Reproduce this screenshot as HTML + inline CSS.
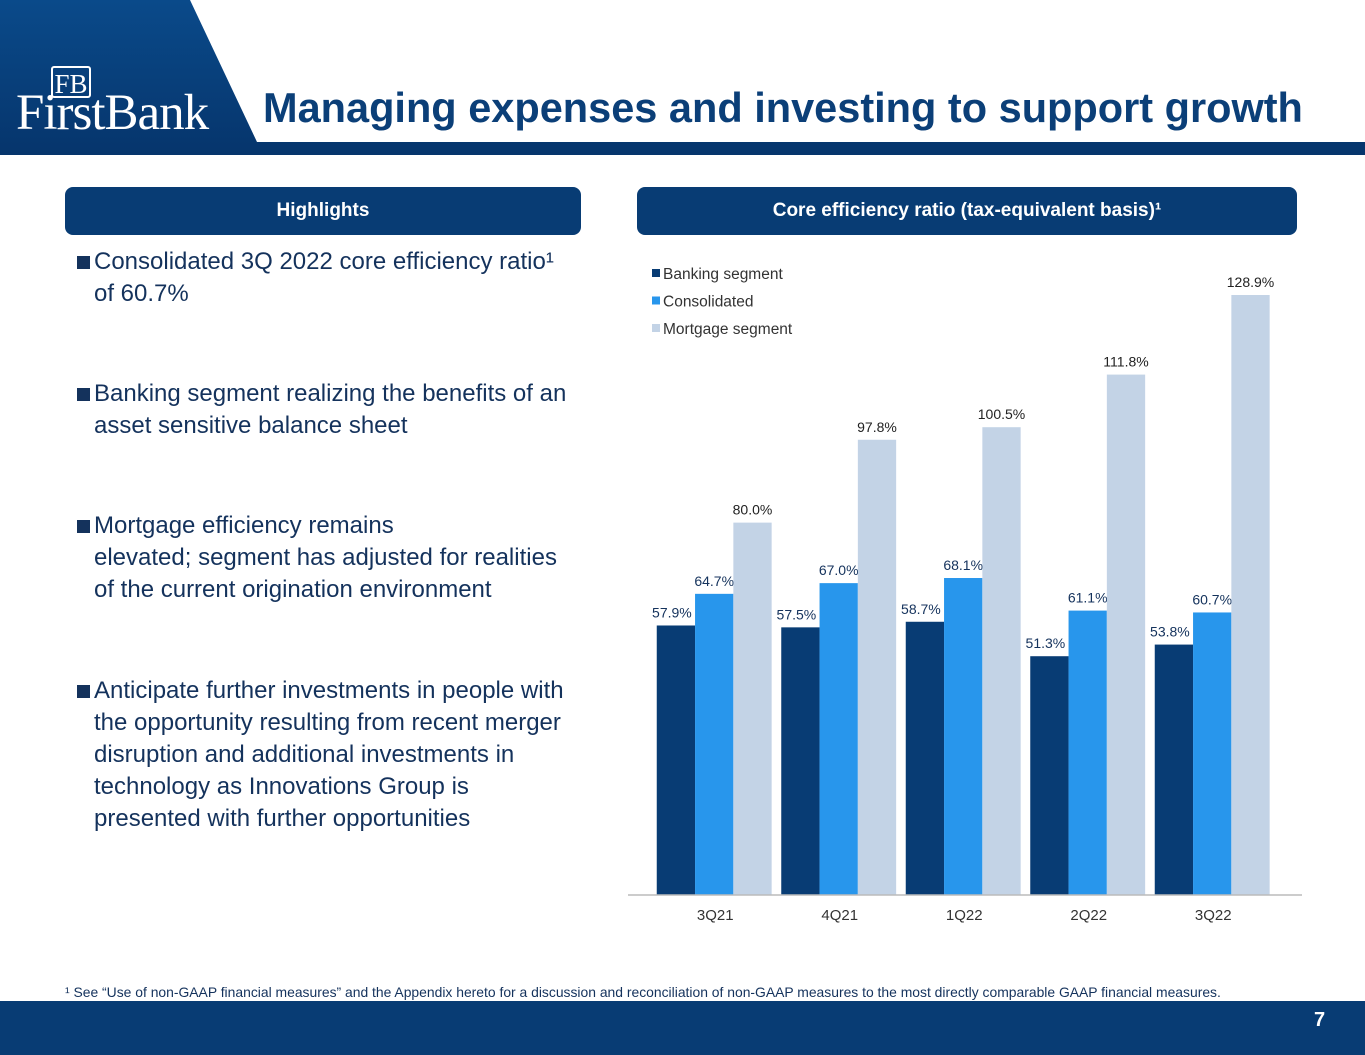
<!DOCTYPE html>
<html><head><meta charset="utf-8"><style>
body{margin:0;width:1365px;height:1055px;position:relative;overflow:hidden;background:#fff;font-family:"Liberation Sans",sans-serif}
.abs{position:absolute}
.hdr{background:#083c74;color:#fff;font-weight:bold;font-size:19px;text-align:center;line-height:48px;border-radius:8px;height:48px}
.bul{position:absolute;left:77px;width:520px;font-size:24px;line-height:32px;color:#14325c}
.bul .sq{position:absolute;left:0;top:10px;width:13px;height:13px;background:#14325c}
.bul .t{margin-left:17px}
</style></head><body>
<svg class="abs" style="left:0;top:0" width="1365" height="160">
<defs><linearGradient id="g" x1="0" y1="0" x2="0" y2="1"><stop offset="0" stop-color="#0a4a8a"/><stop offset="1" stop-color="#06356c"/></linearGradient></defs>
<polygon points="0,0 190,0 257,142 1365,142 1365,155 0,155" fill="url(#g)"/>
</svg>
<div class="abs" style="left:51px;top:66px;width:40px;height:32px;border:2px solid #fff;border-radius:3px;color:#fff;font-family:'Liberation Serif',serif;font-size:27px;text-align:center;line-height:32px;box-sizing:border-box">FB</div>
<div class="abs" style="left:16px;top:84px;color:#fff;font-family:'Liberation Serif',serif;font-size:51px;letter-spacing:-1px;white-space:nowrap">FirstBank</div>
<div class="abs" style="left:263px;top:84px;color:#0b3f78;font-size:41.5px;font-weight:bold;white-space:nowrap">Managing expenses and investing to support growth</div>
<div class="abs hdr" style="left:65px;top:187px;width:516px">Highlights</div>
<div class="abs hdr" style="left:637px;top:187px;width:660px">Core efficiency ratio (tax-equivalent basis)¹</div>
<div class="bul" style="top:246px"><div class="sq"></div><div class="t">Consolidated 3Q 2022 core efficiency ratio¹<br>of 60.7%</div></div>
<div class="bul" style="top:378px"><div class="sq"></div><div class="t">Banking segment realizing the benefits of an<br>asset sensitive balance sheet</div></div>
<div class="bul" style="top:510px"><div class="sq"></div><div class="t">Mortgage efficiency remains<br>elevated; segment has adjusted for realities<br>of the current origination environment</div></div>
<div class="bul" style="top:675px"><div class="sq"></div><div class="t">Anticipate further investments in people with<br>the opportunity resulting from recent merger<br>disruption and additional investments in<br>technology as Innovations Group is<br>presented with further opportunities</div></div>
<svg id="chart" class="abs" style="left:0;top:0" width="1365" height="1000"></svg>
<div class="abs" style="left:65px;top:984px;font-size:13.9px;color:#14325c;white-space:nowrap">¹ See “Use of non-GAAP financial measures” and the Appendix hereto for a discussion and reconciliation of non-GAAP measures to the most directly comparable GAAP financial measures.</div>
<div class="abs" style="left:0;top:1001px;width:1365px;height:54px;background:#083c74"></div>
<div class="abs" style="left:1314px;top:1009px;color:#fff;font-weight:bold;font-size:20px">7</div>
<script>
const categories=["3Q21","4Q21","1Q22","2Q22","3Q22"];
const seriesNames=["Banking segment","Consolidated","Mortgage segment"];
const banking=[57.9,57.5,58.7,51.3,53.8];
const consolidated=[64.7,67.0,68.1,61.1,60.7];
const mortgage=[80.0,97.8,100.5,111.8,128.9];
const colors=["#083c74","#2896ec","#c3d3e6"];
const labelColors=["#14325c","#14325c","#222"];
const svg=document.getElementById('chart');
const NS="http://www.w3.org/2000/svg";
const base=895,scale=600/128.9,x0=652,cw=124.5,bw=38.3;
const y=v=>base-v*scale;
const xb=(i,s)=>x0+i*cw+4.75+s*bw;
function mk(t,a){const e=document.createElementNS(NS,t);for(const k in a)e.setAttribute(k,a[k]);svg.appendChild(e);return e;}
[banking,consolidated,mortgage].forEach((arr,s)=>{
 arr.forEach((v,i)=>{
  const r=mk('rect',{x:xb(i,s),y:y(v),width:bw,height:v*scale,fill:colors[s]});
  
  
  const t=mk('text',{x:s==0?xb(i,s)+bw/2-4:xb(i,s)+bw/2,y:y(v)-8,'text-anchor':'middle','font-size':14,fill:labelColors[s]});
  t.textContent=v.toFixed(1)+'%';
  
  
 });
});
const ax=mk('line',{x1:628,x2:1302,y1:base,y2:base,stroke:'#bbb','stroke-width':1.5});


categories.forEach((c,i)=>{
 const t=mk('text',{x:x0+i*cw+cw/2+1,y:920,'text-anchor':'middle','font-size':15,fill:'#333'});
 t.textContent=c;
 
 
});
seriesNames.forEach((n,s)=>{
 const r=mk('rect',{x:652,y:269+s*27.5,width:8,height:8,fill:colors[s]});
 
 
 const t=mk('text',{x:663,y:279+s*27.5,'font-size':15.5,fill:'#333'});
 t.textContent=n;
 
 
});
</script>
</body></html>
